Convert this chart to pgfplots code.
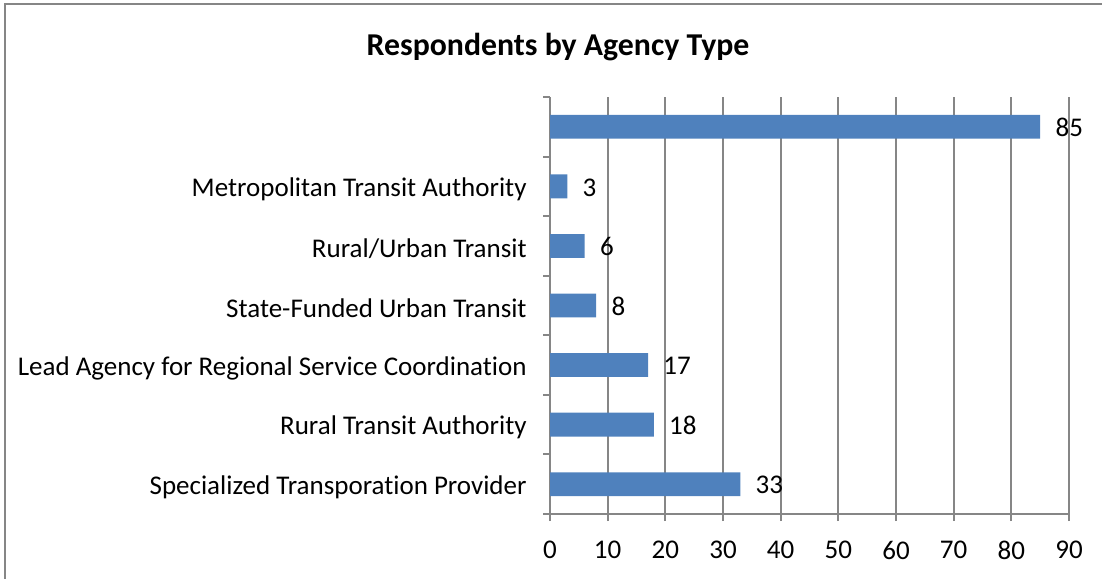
\documentclass[border=0pt]{standalone}
\usepackage{pgfplots}
\pgfplotsset{compat=1.18}
\usepackage{fontspec}
\setmainfont{Carlito}[Ligatures=NoCommon]
\definecolor{barblue}{HTML}{4F81BD}
\definecolor{axgray}{HTML}{868686}
\begin{document}
\begin{tikzpicture}
\useasboundingbox (0,0) rectangle (551pt,289pt);
\draw[axgray, line width=1pt] (2.25pt,-10pt) -- (2.25pt,286.75pt) -- (600pt,286.75pt);
\node[font=\fontsize{15.9}{18}\selectfont\bfseries] at (279pt,265.5pt) {Respondents by Agency Type};
\begin{axis}[
  at={(275pt,32pt)}, anchor=south west,
  scale only axis, width=259.5pt, height=208.5pt,
  xbar, bar width=0.4,
  xmin=0, xmax=90, ymin=-0.5, ymax=6.5,
  xtick={0,10,...,90},
  ytick={0,...,6},
  yticklabels={Specialized Transporation Provider, Rural Transit Authority, Lead Agency for Regional Service Coordination, State-Funded Urban Transit, Rural/Urban Transit, Metropolitan Transit Authority, {}},
  minor ytick={-0.5,0.5,...,6.5},
  axis x line*=bottom, axis y line*=left,
  axis line style={axgray, line width=1pt, -},
  xmajorgrids, grid style={axgray, line width=1pt},
  tick align=outside, major tick length=3.5pt, minor tick length=3.5pt,
  tick style={axgray, line width=1pt},
  major y tick style={draw=none},
  tick label style={font=\fontsize{13.5}{16}\selectfont, text=black},
  /pgf/number format/assume math mode=true,
  yticklabel style={inner sep=0pt, xshift=-8pt, yshift=-1.5pt},
  xticklabel style={inner sep=0pt, yshift=-10pt},
  nodes near coords,
  nodes near coords style={anchor=west, font=\fontsize{13.5}{16}\selectfont, text=black, inner sep=0pt, xshift=7.5pt, yshift=-0.5pt},
]
\addplot[fill=barblue, draw=none] coordinates {(33,0) (18,1) (17,2) (8,3) (6,4) (3,5) (85,6)};
\end{axis}
\end{tikzpicture}
\end{document}
